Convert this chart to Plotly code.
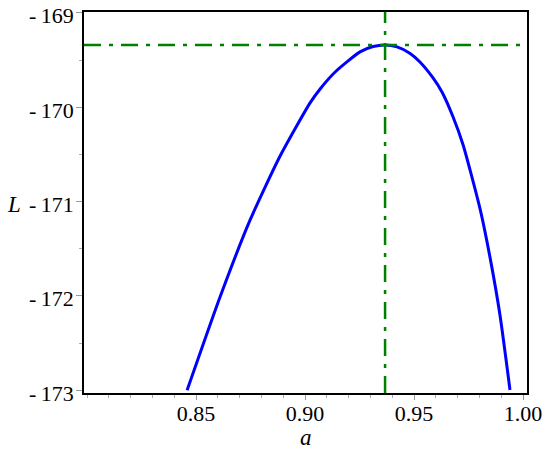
import plotly.graph_objects as go

# values
a_vals = [0.8459, 0.8610, 0.8748, 0.8885, 0.9023, 0.9069, 0.9138, 0.9252, 0.9312, 0.9367,
          0.9422, 0.9482, 0.9527, 0.9587, 0.9628, 0.9679, 0.9725, 0.9803, 0.9849, 0.9894, 0.9940]
L_vals = [-173.0, -172.012, -171.195, -170.52, -169.954, -169.806, -169.626, -169.413, -169.356, -169.339,
          -169.360, -169.429, -169.520, -169.689, -169.838, -170.103, -170.400, -171.08, -171.60, -172.203, -172.998]

a_max = 0.9367
L_max = -169.339

x_ticks = [0.85, 0.90, 0.95, 1.00]
x_ticklabels = ["0.85", "0.90", "0.95", "1.00"]
y_ticks = [-173, -172, -171, -170, -169]
y_ticklabels = ["-\u2009173", "-\u2009172", "-\u2009171", "-\u2009170", "-\u2009169"]

x_range = [0.7986, 1.0018]
y_range = [-173.03, -168.99]

font = "Liberation Serif, Times New Roman, serif"
green = "#008000"
dash = "17px,8px,4px,8px"

fig = go.Figure()

fig.add_trace(go.Scatter(
    x=a_vals, y=L_vals, mode="lines",
    line=dict(color="#0000FF", width=3, shape="spline", smoothing=0.6),
    hoverinfo="skip"))

# marker lines through the maximum
fig.add_trace(go.Scatter(
    x=[a_max, a_max], y=y_range, mode="lines",
    line=dict(color=green, width=2.5, dash=dash), hoverinfo="skip"))
fig.add_trace(go.Scatter(
    x=x_range, y=[L_max, L_max], mode="lines",
    line=dict(color=green, width=2.5, dash=dash), hoverinfo="skip"))

# y tick labels as annotations, sitting slightly below their ticks as in the reference
y_labels = [
    dict(text=t, x=0, xref="paper", y=v, yref="y", xanchor="right", yanchor="middle",
         xshift=-8, yshift=-3, showarrow=False, font=dict(size=22))
    for v, t in zip(y_ticks, y_ticklabels)
]

fig.update_layout(
    width=550, height=453,
    margin=dict(l=84, r=23, t=12, b=60),
    paper_bgcolor="white", plot_bgcolor="white",
    showlegend=False,
    font=dict(family=font, size=22, color="black"),
    annotations=[
        dict(text="<i>a</i>", x=0.5, xref="paper", y=-0.118, yref="paper",
             yanchor="middle", showarrow=False, font=dict(size=23)),
        dict(text="<i>L</i>", x=-0.158, xref="paper", y=-171, yref="y",
             xanchor="center", yshift=-3, showarrow=False, font=dict(size=23)),
    ] + y_labels,
)

fig.update_xaxes(
    range=x_range, showgrid=False, zeroline=False, automargin=False,
    tickvals=x_ticks, ticktext=x_ticklabels,
    ticks="outside", ticklen=5, tickcolor="#999999", tickwidth=1,
    ticklabelstandoff=-5, ticklabeloverflow="allow",
    minor=dict(dtick=0.01, tick0=0.80, ticks="outside", ticklen=3, tickcolor="#aaaaaa"),
    showline=True, linecolor="black", linewidth=2, mirror=True,
)
fig.update_yaxes(
    range=y_range, showgrid=False, zeroline=False, automargin=False,
    tickvals=y_ticks, showticklabels=False,
    ticks="outside", ticklen=6, tickcolor="#999999", tickwidth=1,
    minor=dict(dtick=0.5, tick0=-173, ticks="outside", ticklen=3, tickcolor="#aaaaaa"),
    showline=True, linecolor="black", linewidth=2, mirror=True,
)

# drop the default 8px body margin so the figure fills the window
fig.write_html("out.html", config={"displayModeBar": False},
               post_script="document.body.style.margin='0';")
